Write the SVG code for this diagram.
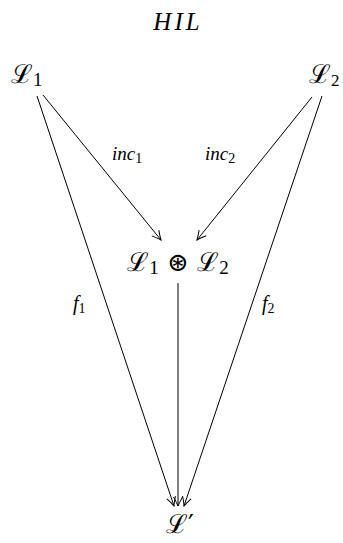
<svg xmlns="http://www.w3.org/2000/svg" width="343" height="543" viewBox="0 0 343 543">
<style>
.bg{fill:#fff}
.lbl{font-family:"DejaVu Serif",serif;fill:#000}
.it{font-family:"Liberation Serif","Times New Roman",serif;font-style:italic;fill:#000}
.sub{font-family:"Liberation Serif","Times New Roman",serif;font-style:normal;fill:#000}
.edge{stroke:#000;stroke-width:1;fill:none;marker-end:url(#arr)}
</style>
<defs>
<marker id="arr" markerUnits="userSpaceOnUse" markerWidth="14" markerHeight="12" viewBox="-10 -6 12 12" refX="0" refY="0" orient="auto">
<path d="M -9 -4.5 Q -3 -1.2 0 0 Q -3 1.2 -9 4.5" fill="none" stroke="#000" stroke-width="1"/>
</marker>
</defs>
<rect class="bg" x="0" y="0" width="343" height="543"/>
<text class="it" x="178" y="30" font-size="25" text-anchor="middle" letter-spacing="3">HIL</text>
<g id="connectors">
<line class="edge" x1="37" y1="96" x2="174" y2="506"/>
<line class="edge" x1="43" y1="95" x2="161" y2="240"/>
<line class="edge" x1="312" y1="97" x2="197" y2="240"/>
<line class="edge" x1="322" y1="96" x2="184" y2="506"/>
<line class="edge" x1="178" y1="283" x2="178" y2="506"/>
<text class="it" x="112" y="160" font-size="19">inc<tspan class="sub" font-size="14" dy="3">1</tspan></text>
<text class="it" x="205" y="160" font-size="19">inc<tspan class="sub" font-size="14" dy="3">2</tspan></text>
<text class="it" x="73" y="310" font-size="20">f<tspan class="sub" font-size="14" dy="3">1</tspan></text>
<text class="it" x="262" y="310" font-size="20">f<tspan class="sub" font-size="14" dy="3">2</tspan></text>
</g>
<g id="L1"><text class="lbl" x="11" y="83" font-size="26">ℒ<tspan class="sub" font-size="19" dy="3">1</tspan></text></g>
<g id="L2"><text class="lbl" x="309" y="83" font-size="26">ℒ<tspan class="sub" font-size="17" dy="3">2</tspan></text></g>
<g id="L1L2"><text class="lbl" x="178" y="271" font-size="26" text-anchor="middle">ℒ<tspan class="sub" font-size="19" dy="3">1</tspan><tspan dy="-3"> ⊛ ℒ</tspan><tspan class="sub" font-size="19" dy="3">2</tspan></text></g>
<g id="Lprime"><text class="lbl" x="180" y="533" font-size="26" text-anchor="middle">ℒ′</text></g>
</svg>
